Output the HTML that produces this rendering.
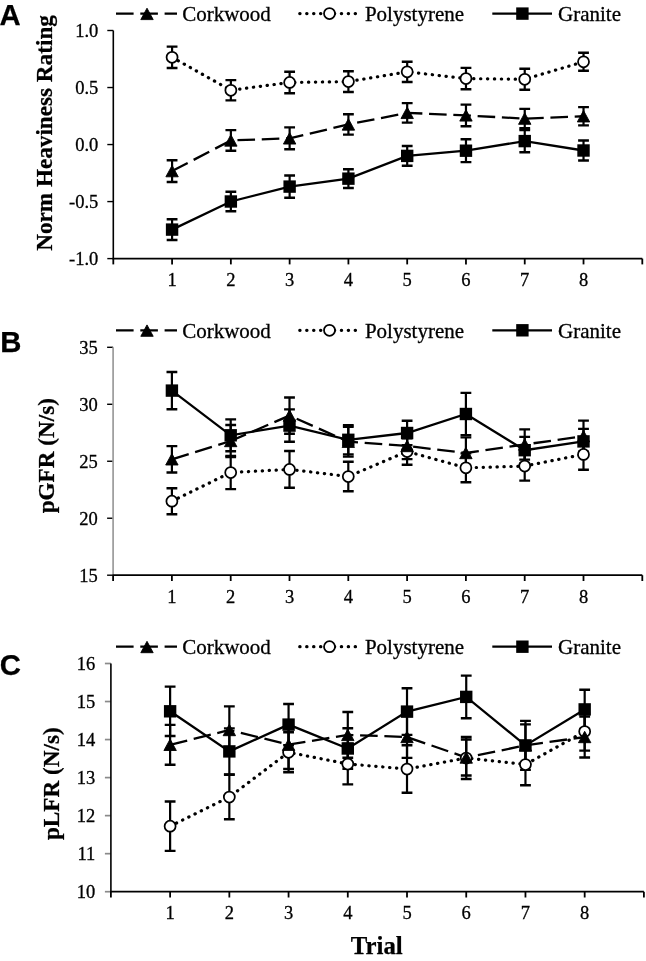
<!DOCTYPE html>
<html><head><meta charset="utf-8"><title>Figure</title>
<style>html,body{margin:0;padding:0;background:#fff;} svg{display:block;will-change:transform;} text{stroke:#000;stroke-width:.3px;} text[font-weight=bold]{stroke-width:.25px;}</style></head>
<body><svg width="646" height="961" viewBox="0 0 646 961">
<rect width="646" height="961" fill="#fff"/>
<path d="M107.3 30.50H113.3" stroke="#000" stroke-width="1.4"/><text x="98.3" y="36.80" text-anchor="end" font-family="'Liberation Serif', serif" font-size="18.5">1.0</text><path d="M107.3 87.53H113.3" stroke="#000" stroke-width="1.4"/><text x="98.3" y="93.83" text-anchor="end" font-family="'Liberation Serif', serif" font-size="18.5">0.5</text><path d="M107.3 144.55H113.3" stroke="#000" stroke-width="1.4"/><text x="98.3" y="150.85" text-anchor="end" font-family="'Liberation Serif', serif" font-size="18.5">0.0</text><path d="M107.3 201.58H113.3" stroke="#000" stroke-width="1.4"/><text x="98.3" y="207.88" text-anchor="end" font-family="'Liberation Serif', serif" font-size="18.5">-0.5</text><path d="M107.3 258.60H113.3" stroke="#000" stroke-width="1.4"/><text x="98.3" y="264.90" text-anchor="end" font-family="'Liberation Serif', serif" font-size="18.5">-1.0</text><path d="M113.30 258.6V264.40000000000003" stroke="#000" stroke-width="1.8"/><path d="M172.08 258.6V264.40000000000003" stroke="#000" stroke-width="1.8"/><path d="M230.86 258.6V264.40000000000003" stroke="#000" stroke-width="1.8"/><path d="M289.63 258.6V264.40000000000003" stroke="#000" stroke-width="1.8"/><path d="M348.41 258.6V264.40000000000003" stroke="#000" stroke-width="1.8"/><path d="M407.19 258.6V264.40000000000003" stroke="#000" stroke-width="1.8"/><path d="M465.97 258.6V264.40000000000003" stroke="#000" stroke-width="1.8"/><path d="M524.74 258.6V264.40000000000003" stroke="#000" stroke-width="1.8"/><path d="M583.52 258.6V264.40000000000003" stroke="#000" stroke-width="1.8"/><path d="M642.30 258.6V264.40000000000003" stroke="#000" stroke-width="1.8"/><path d="M113.3 30.5V258.6" stroke="#000" stroke-width="1.6"/><path d="M112.5 258.6H642.3" stroke="#000" stroke-width="1.7"/><text x="172.08" y="285.90" text-anchor="middle" font-family="'Liberation Serif', serif" font-size="18.5">1</text><text x="230.86" y="285.90" text-anchor="middle" font-family="'Liberation Serif', serif" font-size="18.5">2</text><text x="289.63" y="285.90" text-anchor="middle" font-family="'Liberation Serif', serif" font-size="18.5">3</text><text x="348.41" y="285.90" text-anchor="middle" font-family="'Liberation Serif', serif" font-size="18.5">4</text><text x="407.19" y="285.90" text-anchor="middle" font-family="'Liberation Serif', serif" font-size="18.5">5</text><text x="465.97" y="285.90" text-anchor="middle" font-family="'Liberation Serif', serif" font-size="18.5">6</text><text x="524.74" y="285.90" text-anchor="middle" font-family="'Liberation Serif', serif" font-size="18.5">7</text><text x="583.52" y="285.90" text-anchor="middle" font-family="'Liberation Serif', serif" font-size="18.5">8</text><path d="M172.08 57.30L230.86 90.25L289.63 82.45L348.41 81.60L407.19 71.85L465.97 78.60L524.74 79.25L583.52 61.80" fill="none" stroke="#000" stroke-width="3.2" stroke-dasharray="0.3 6.63" stroke-linecap="round"/><path d="M172.08 171.10L230.86 140.45L289.63 138.35L348.41 124.45L407.19 112.85L465.97 115.40L524.74 118.60L583.52 116.25" fill="none" stroke="#000" stroke-width="2.3" stroke-dasharray="17.6 6.7"/><path d="M172.08 229.60L230.86 201.50L289.63 186.60L348.41 178.65L407.19 155.90L465.97 150.70L524.74 141.10L583.52 150.50" fill="none" stroke="#000" stroke-width="2.3"/><path d="M172.08 46.60V68.00" stroke="#000" stroke-width="2.2"/><path d="M166.68 46.60H177.48M166.68 68.00H177.48" stroke="#000" stroke-width="2.4"/><path d="M230.86 80.10V100.40" stroke="#000" stroke-width="2.2"/><path d="M225.46 80.10H236.26M225.46 100.40H236.26" stroke="#000" stroke-width="2.4"/><path d="M289.63 71.70V93.20" stroke="#000" stroke-width="2.2"/><path d="M284.23 71.70H295.03M284.23 93.20H295.03" stroke="#000" stroke-width="2.4"/><path d="M348.41 71.20V92.00" stroke="#000" stroke-width="2.2"/><path d="M343.01 71.20H353.81M343.01 92.00H353.81" stroke="#000" stroke-width="2.4"/><path d="M407.19 61.70V82.00" stroke="#000" stroke-width="2.2"/><path d="M401.79 61.70H412.59M401.79 82.00H412.59" stroke="#000" stroke-width="2.4"/><path d="M465.97 67.90V89.30" stroke="#000" stroke-width="2.2"/><path d="M460.57 67.90H471.37M460.57 89.30H471.37" stroke="#000" stroke-width="2.4"/><path d="M524.74 68.70V89.80" stroke="#000" stroke-width="2.2"/><path d="M519.34 68.70H530.14M519.34 89.80H530.14" stroke="#000" stroke-width="2.4"/><path d="M583.52 52.80V70.80" stroke="#000" stroke-width="2.2"/><path d="M578.12 52.80H588.92M578.12 70.80H588.92" stroke="#000" stroke-width="2.4"/><path d="M172.08 160.20V182.00" stroke="#000" stroke-width="2.2"/><path d="M166.68 160.20H177.48M166.68 182.00H177.48" stroke="#000" stroke-width="2.4"/><path d="M230.86 130.10V150.80" stroke="#000" stroke-width="2.2"/><path d="M225.46 130.10H236.26M225.46 150.80H236.26" stroke="#000" stroke-width="2.4"/><path d="M289.63 127.40V149.30" stroke="#000" stroke-width="2.2"/><path d="M284.23 127.40H295.03M284.23 149.30H295.03" stroke="#000" stroke-width="2.4"/><path d="M348.41 114.30V134.60" stroke="#000" stroke-width="2.2"/><path d="M343.01 114.30H353.81M343.01 134.60H353.81" stroke="#000" stroke-width="2.4"/><path d="M407.19 103.10V122.60" stroke="#000" stroke-width="2.2"/><path d="M401.79 103.10H412.59M401.79 122.60H412.59" stroke="#000" stroke-width="2.4"/><path d="M465.97 104.60V126.20" stroke="#000" stroke-width="2.2"/><path d="M460.57 104.60H471.37M460.57 126.20H471.37" stroke="#000" stroke-width="2.4"/><path d="M524.74 108.90V128.30" stroke="#000" stroke-width="2.2"/><path d="M519.34 108.90H530.14M519.34 128.30H530.14" stroke="#000" stroke-width="2.4"/><path d="M583.52 107.10V125.40" stroke="#000" stroke-width="2.2"/><path d="M578.12 107.10H588.92M578.12 125.40H588.92" stroke="#000" stroke-width="2.4"/><path d="M172.08 219.20V240.00" stroke="#000" stroke-width="2.2"/><path d="M166.68 219.20H177.48M166.68 240.00H177.48" stroke="#000" stroke-width="2.4"/><path d="M230.86 191.70V211.30" stroke="#000" stroke-width="2.2"/><path d="M225.46 191.70H236.26M225.46 211.30H236.26" stroke="#000" stroke-width="2.4"/><path d="M289.63 175.50V197.70" stroke="#000" stroke-width="2.2"/><path d="M284.23 175.50H295.03M284.23 197.70H295.03" stroke="#000" stroke-width="2.4"/><path d="M348.41 169.30V188.00" stroke="#000" stroke-width="2.2"/><path d="M343.01 169.30H353.81M343.01 188.00H353.81" stroke="#000" stroke-width="2.4"/><path d="M407.19 146.00V165.80" stroke="#000" stroke-width="2.2"/><path d="M401.79 146.00H412.59M401.79 165.80H412.59" stroke="#000" stroke-width="2.4"/><path d="M465.97 139.30V162.10" stroke="#000" stroke-width="2.2"/><path d="M460.57 139.30H471.37M460.57 162.10H471.37" stroke="#000" stroke-width="2.4"/><path d="M524.74 130.00V152.20" stroke="#000" stroke-width="2.2"/><path d="M519.34 130.00H530.14M519.34 152.20H530.14" stroke="#000" stroke-width="2.4"/><path d="M583.52 140.50V160.50" stroke="#000" stroke-width="2.2"/><path d="M578.12 140.50H588.92M578.12 160.50H588.92" stroke="#000" stroke-width="2.4"/><rect x="165.88" y="223.40" width="12.4" height="12.4" fill="#000"/><rect x="224.66" y="195.30" width="12.4" height="12.4" fill="#000"/><rect x="283.43" y="180.40" width="12.4" height="12.4" fill="#000"/><rect x="342.21" y="172.45" width="12.4" height="12.4" fill="#000"/><rect x="400.99" y="149.70" width="12.4" height="12.4" fill="#000"/><rect x="459.77" y="144.50" width="12.4" height="12.4" fill="#000"/><rect x="518.54" y="134.90" width="12.4" height="12.4" fill="#000"/><rect x="577.32" y="144.30" width="12.4" height="12.4" fill="#000"/><circle cx="172.08" cy="57.30" r="5.5" fill="#fff" stroke="#000" stroke-width="1.75"/><circle cx="230.86" cy="90.25" r="5.5" fill="#fff" stroke="#000" stroke-width="1.75"/><circle cx="289.63" cy="82.45" r="5.5" fill="#fff" stroke="#000" stroke-width="1.75"/><circle cx="348.41" cy="81.60" r="5.5" fill="#fff" stroke="#000" stroke-width="1.75"/><circle cx="407.19" cy="71.85" r="5.5" fill="#fff" stroke="#000" stroke-width="1.75"/><circle cx="465.97" cy="78.60" r="5.5" fill="#fff" stroke="#000" stroke-width="1.75"/><circle cx="524.74" cy="79.25" r="5.5" fill="#fff" stroke="#000" stroke-width="1.75"/><circle cx="583.52" cy="61.80" r="5.5" fill="#fff" stroke="#000" stroke-width="1.75"/><path d="M172.08 165.40L178.28 176.80L165.88 176.80Z" fill="#000" stroke="#000" stroke-width="0.9" stroke-linejoin="round"/><path d="M230.86 134.75L237.06 146.15L224.66 146.15Z" fill="#000" stroke="#000" stroke-width="0.9" stroke-linejoin="round"/><path d="M289.63 132.65L295.83 144.05L283.43 144.05Z" fill="#000" stroke="#000" stroke-width="0.9" stroke-linejoin="round"/><path d="M348.41 118.75L354.61 130.15L342.21 130.15Z" fill="#000" stroke="#000" stroke-width="0.9" stroke-linejoin="round"/><path d="M407.19 107.15L413.39 118.55L400.99 118.55Z" fill="#000" stroke="#000" stroke-width="0.9" stroke-linejoin="round"/><path d="M465.97 109.70L472.17 121.10L459.77 121.10Z" fill="#000" stroke="#000" stroke-width="0.9" stroke-linejoin="round"/><path d="M524.74 112.90L530.94 124.30L518.54 124.30Z" fill="#000" stroke="#000" stroke-width="0.9" stroke-linejoin="round"/><path d="M583.52 110.55L589.72 121.95L577.32 121.95Z" fill="#000" stroke="#000" stroke-width="0.9" stroke-linejoin="round"/><path d="M116 13.6H177" stroke="#000" stroke-width="2.2" stroke-dasharray="17.6 6.7"/><path d="M147.00 8.20L153.20 19.60L140.80 19.60Z" fill="#000" stroke="#000" stroke-width="0.9" stroke-linejoin="round"/><text x="182.2" y="20.9" font-family="'Liberation Serif', serif" font-size="21">Corkwood</text><path d="M299.75 13.6H358" stroke="#000" stroke-width="3.2" stroke-dasharray="0.3 6.63" stroke-linecap="round"/><circle cx="329.50" cy="13.60" r="5.5" fill="#fff" stroke="#000" stroke-width="1.75"/><text x="364.9" y="20.9" font-family="'Liberation Serif', serif" font-size="21">Polystyrene</text><path d="M492.3 13.6H552" stroke="#000" stroke-width="2.2"/><rect x="516.20" y="7.40" width="12.4" height="12.4" fill="#000"/><text x="558" y="20.9" font-family="'Liberation Serif', serif" font-size="21">Granite</text><path d="M107.1 347.30H113.1" stroke="#000" stroke-width="1.4"/><text x="97.8" y="353.60" text-anchor="end" font-family="'Liberation Serif', serif" font-size="18.5">35</text><path d="M107.1 404.28H113.1" stroke="#000" stroke-width="1.4"/><text x="97.8" y="410.58" text-anchor="end" font-family="'Liberation Serif', serif" font-size="18.5">30</text><path d="M107.1 461.25H113.1" stroke="#000" stroke-width="1.4"/><text x="97.8" y="467.55" text-anchor="end" font-family="'Liberation Serif', serif" font-size="18.5">25</text><path d="M107.1 518.23H113.1" stroke="#000" stroke-width="1.4"/><text x="97.8" y="524.52" text-anchor="end" font-family="'Liberation Serif', serif" font-size="18.5">20</text><path d="M107.1 575.20H113.1" stroke="#000" stroke-width="1.4"/><text x="97.8" y="581.50" text-anchor="end" font-family="'Liberation Serif', serif" font-size="18.5">15</text><path d="M113.10 575.2V581.0" stroke="#000" stroke-width="1.8"/><path d="M171.90 575.2V581.0" stroke="#000" stroke-width="1.8"/><path d="M230.70 575.2V581.0" stroke="#000" stroke-width="1.8"/><path d="M289.50 575.2V581.0" stroke="#000" stroke-width="1.8"/><path d="M348.30 575.2V581.0" stroke="#000" stroke-width="1.8"/><path d="M407.10 575.2V581.0" stroke="#000" stroke-width="1.8"/><path d="M465.90 575.2V581.0" stroke="#000" stroke-width="1.8"/><path d="M524.70 575.2V581.0" stroke="#000" stroke-width="1.8"/><path d="M583.50 575.2V581.0" stroke="#000" stroke-width="1.8"/><path d="M642.30 575.2V581.0" stroke="#000" stroke-width="1.8"/><path d="M113.1 347.3V575.2" stroke="#a0a0a0" stroke-width="1.8"/><path d="M112.3 575.2H642.3" stroke="#000" stroke-width="1.7"/><text x="171.90" y="602.50" text-anchor="middle" font-family="'Liberation Serif', serif" font-size="18.5">1</text><text x="230.70" y="602.50" text-anchor="middle" font-family="'Liberation Serif', serif" font-size="18.5">2</text><text x="289.50" y="602.50" text-anchor="middle" font-family="'Liberation Serif', serif" font-size="18.5">3</text><text x="348.30" y="602.50" text-anchor="middle" font-family="'Liberation Serif', serif" font-size="18.5">4</text><text x="407.10" y="602.50" text-anchor="middle" font-family="'Liberation Serif', serif" font-size="18.5">5</text><text x="465.90" y="602.50" text-anchor="middle" font-family="'Liberation Serif', serif" font-size="18.5">6</text><text x="524.70" y="602.50" text-anchor="middle" font-family="'Liberation Serif', serif" font-size="18.5">7</text><text x="583.50" y="602.50" text-anchor="middle" font-family="'Liberation Serif', serif" font-size="18.5">8</text><path d="M171.90 501.20L230.70 472.50L289.50 469.40L348.30 476.50L407.10 451.50L465.90 467.80L524.70 466.10L583.50 454.40" fill="none" stroke="#000" stroke-width="3.2" stroke-dasharray="0.3 6.63" stroke-linecap="round"/><path d="M171.90 459.30L230.70 441.00" fill="none" stroke="#000" stroke-width="2.3" stroke-dasharray="17.6 6.7"/><path d="M230.70 441.00L289.50 415.60L348.30 441.70L407.10 446.00L465.90 453.00L524.70 444.50L583.50 436.20" fill="none" stroke="#000" stroke-width="2.3" stroke-dasharray="17.6 6.7" stroke-dashoffset="1.0"/><path d="M171.90 390.60L230.70 435.30L289.50 425.60L348.30 439.80L407.10 433.00L465.90 414.00L524.70 450.20L583.50 441.40" fill="none" stroke="#000" stroke-width="2.3"/><path d="M171.90 488.20V514.20" stroke="#000" stroke-width="2.2"/><path d="M166.50 488.20H177.30M166.50 514.20H177.30" stroke="#000" stroke-width="2.4"/><path d="M230.70 455.90V489.10" stroke="#000" stroke-width="2.2"/><path d="M225.30 455.90H236.10M225.30 489.10H236.10" stroke="#000" stroke-width="2.4"/><path d="M289.50 451.00V487.80" stroke="#000" stroke-width="2.2"/><path d="M284.10 451.00H294.90M284.10 487.80H294.90" stroke="#000" stroke-width="2.4"/><path d="M348.30 461.70V491.30" stroke="#000" stroke-width="2.2"/><path d="M342.90 461.70H353.70M342.90 491.30H353.70" stroke="#000" stroke-width="2.4"/><path d="M407.10 438.20V464.80" stroke="#000" stroke-width="2.2"/><path d="M401.70 438.20H412.50M401.70 464.80H412.50" stroke="#000" stroke-width="2.4"/><path d="M465.90 453.40V482.20" stroke="#000" stroke-width="2.2"/><path d="M460.50 453.40H471.30M460.50 482.20H471.30" stroke="#000" stroke-width="2.4"/><path d="M524.70 451.60V480.60" stroke="#000" stroke-width="2.2"/><path d="M519.30 451.60H530.10M519.30 480.60H530.10" stroke="#000" stroke-width="2.4"/><path d="M583.50 439.10V469.70" stroke="#000" stroke-width="2.2"/><path d="M578.10 439.10H588.90M578.10 469.70H588.90" stroke="#000" stroke-width="2.4"/><path d="M171.90 446.10V472.50" stroke="#000" stroke-width="2.2"/><path d="M166.50 446.10H177.30M166.50 472.50H177.30" stroke="#000" stroke-width="2.4"/><path d="M230.70 425.00V457.00" stroke="#000" stroke-width="2.2"/><path d="M225.30 425.00H236.10M225.30 457.00H236.10" stroke="#000" stroke-width="2.4"/><path d="M289.50 397.50V433.70" stroke="#000" stroke-width="2.2"/><path d="M284.10 397.50H294.90M284.10 433.70H294.90" stroke="#000" stroke-width="2.4"/><path d="M348.30 426.80V456.60" stroke="#000" stroke-width="2.2"/><path d="M342.90 426.80H353.70M342.90 456.60H353.70" stroke="#000" stroke-width="2.4"/><path d="M407.10 432.90V459.10" stroke="#000" stroke-width="2.2"/><path d="M401.70 432.90H412.50M401.70 459.10H412.50" stroke="#000" stroke-width="2.4"/><path d="M465.90 437.40V468.60" stroke="#000" stroke-width="2.2"/><path d="M460.50 437.40H471.30M460.50 468.60H471.30" stroke="#000" stroke-width="2.4"/><path d="M524.70 429.40V459.60" stroke="#000" stroke-width="2.2"/><path d="M519.30 429.40H530.10M519.30 459.60H530.10" stroke="#000" stroke-width="2.4"/><path d="M583.50 420.60V451.80" stroke="#000" stroke-width="2.2"/><path d="M578.10 420.60H588.90M578.10 451.80H588.90" stroke="#000" stroke-width="2.4"/><path d="M171.90 372.00V409.20" stroke="#000" stroke-width="2.2"/><path d="M166.50 372.00H177.30M166.50 409.20H177.30" stroke="#000" stroke-width="2.4"/><path d="M230.70 419.40V451.20" stroke="#000" stroke-width="2.2"/><path d="M225.30 419.40H236.10M225.30 451.20H236.10" stroke="#000" stroke-width="2.4"/><path d="M289.50 409.40V441.80" stroke="#000" stroke-width="2.2"/><path d="M284.10 409.40H294.90M284.10 441.80H294.90" stroke="#000" stroke-width="2.4"/><path d="M348.30 425.20V454.40" stroke="#000" stroke-width="2.2"/><path d="M342.90 425.20H353.70M342.90 454.40H353.70" stroke="#000" stroke-width="2.4"/><path d="M407.10 420.70V445.30" stroke="#000" stroke-width="2.2"/><path d="M401.70 420.70H412.50M401.70 445.30H412.50" stroke="#000" stroke-width="2.4"/><path d="M465.90 392.90V435.10" stroke="#000" stroke-width="2.2"/><path d="M460.50 392.90H471.30M460.50 435.10H471.30" stroke="#000" stroke-width="2.4"/><path d="M524.70 436.90V463.50" stroke="#000" stroke-width="2.2"/><path d="M519.30 436.90H530.10M519.30 463.50H530.10" stroke="#000" stroke-width="2.4"/><path d="M583.50 428.90V453.90" stroke="#000" stroke-width="2.2"/><path d="M578.10 428.90H588.90M578.10 453.90H588.90" stroke="#000" stroke-width="2.4"/><rect x="165.70" y="384.40" width="12.4" height="12.4" fill="#000"/><rect x="224.50" y="429.10" width="12.4" height="12.4" fill="#000"/><rect x="283.30" y="419.40" width="12.4" height="12.4" fill="#000"/><rect x="342.10" y="433.60" width="12.4" height="12.4" fill="#000"/><rect x="400.90" y="426.80" width="12.4" height="12.4" fill="#000"/><rect x="459.70" y="407.80" width="12.4" height="12.4" fill="#000"/><rect x="518.50" y="444.00" width="12.4" height="12.4" fill="#000"/><rect x="577.30" y="435.20" width="12.4" height="12.4" fill="#000"/><circle cx="171.90" cy="501.20" r="5.5" fill="#fff" stroke="#000" stroke-width="1.75"/><circle cx="230.70" cy="472.50" r="5.5" fill="#fff" stroke="#000" stroke-width="1.75"/><circle cx="289.50" cy="469.40" r="5.5" fill="#fff" stroke="#000" stroke-width="1.75"/><circle cx="348.30" cy="476.50" r="5.5" fill="#fff" stroke="#000" stroke-width="1.75"/><circle cx="407.10" cy="451.50" r="5.5" fill="#fff" stroke="#000" stroke-width="1.75"/><circle cx="465.90" cy="467.80" r="5.5" fill="#fff" stroke="#000" stroke-width="1.75"/><circle cx="524.70" cy="466.10" r="5.5" fill="#fff" stroke="#000" stroke-width="1.75"/><circle cx="583.50" cy="454.40" r="5.5" fill="#fff" stroke="#000" stroke-width="1.75"/><path d="M171.90 453.60L178.10 465.00L165.70 465.00Z" fill="#000" stroke="#000" stroke-width="0.9" stroke-linejoin="round"/><path d="M230.70 435.30L236.90 446.70L224.50 446.70Z" fill="#000" stroke="#000" stroke-width="0.9" stroke-linejoin="round"/><path d="M289.50 409.90L295.70 421.30L283.30 421.30Z" fill="#000" stroke="#000" stroke-width="0.9" stroke-linejoin="round"/><path d="M348.30 436.00L354.50 447.40L342.10 447.40Z" fill="#000" stroke="#000" stroke-width="0.9" stroke-linejoin="round"/><path d="M407.10 440.30L413.30 451.70L400.90 451.70Z" fill="#000" stroke="#000" stroke-width="0.9" stroke-linejoin="round"/><path d="M465.90 447.30L472.10 458.70L459.70 458.70Z" fill="#000" stroke="#000" stroke-width="0.9" stroke-linejoin="round"/><path d="M524.70 438.80L530.90 450.20L518.50 450.20Z" fill="#000" stroke="#000" stroke-width="0.9" stroke-linejoin="round"/><path d="M583.50 430.50L589.70 441.90L577.30 441.90Z" fill="#000" stroke="#000" stroke-width="0.9" stroke-linejoin="round"/><path d="M116 330.3H177" stroke="#000" stroke-width="2.2" stroke-dasharray="17.6 6.7"/><path d="M147.00 324.90L153.20 336.30L140.80 336.30Z" fill="#000" stroke="#000" stroke-width="0.9" stroke-linejoin="round"/><text x="182.2" y="337.6" font-family="'Liberation Serif', serif" font-size="21">Corkwood</text><path d="M299.75 330.3H358" stroke="#000" stroke-width="3.2" stroke-dasharray="0.3 6.63" stroke-linecap="round"/><circle cx="329.50" cy="330.30" r="5.5" fill="#fff" stroke="#000" stroke-width="1.75"/><text x="364.9" y="337.6" font-family="'Liberation Serif', serif" font-size="21">Polystyrene</text><path d="M492.3 330.3H552" stroke="#000" stroke-width="2.2"/><rect x="516.20" y="324.10" width="12.4" height="12.4" fill="#000"/><text x="558" y="337.6" font-family="'Liberation Serif', serif" font-size="21">Granite</text><path d="M104.9 663.50H110.9" stroke="#8a8a8a" stroke-width="1.7"/><text x="95.3" y="669.80" text-anchor="end" font-family="'Liberation Serif', serif" font-size="18.5">16</text><path d="M104.9 701.53H110.9" stroke="#8a8a8a" stroke-width="1.7"/><text x="95.3" y="707.83" text-anchor="end" font-family="'Liberation Serif', serif" font-size="18.5">15</text><path d="M104.9 739.57H110.9" stroke="#8a8a8a" stroke-width="1.7"/><text x="95.3" y="745.87" text-anchor="end" font-family="'Liberation Serif', serif" font-size="18.5">14</text><path d="M104.9 777.60H110.9" stroke="#8a8a8a" stroke-width="1.7"/><text x="95.3" y="783.90" text-anchor="end" font-family="'Liberation Serif', serif" font-size="18.5">13</text><path d="M104.9 815.63H110.9" stroke="#8a8a8a" stroke-width="1.7"/><text x="95.3" y="821.93" text-anchor="end" font-family="'Liberation Serif', serif" font-size="18.5">12</text><path d="M104.9 853.67H110.9" stroke="#8a8a8a" stroke-width="1.7"/><text x="95.3" y="859.97" text-anchor="end" font-family="'Liberation Serif', serif" font-size="18.5">11</text><path d="M104.9 891.70H110.9" stroke="#8a8a8a" stroke-width="1.7"/><text x="95.3" y="898.00" text-anchor="end" font-family="'Liberation Serif', serif" font-size="18.5">10</text><path d="M110.90 891.7V897.5" stroke="#000" stroke-width="1.8"/><path d="M170.12 891.7V897.5" stroke="#000" stroke-width="1.8"/><path d="M229.34 891.7V897.5" stroke="#000" stroke-width="1.8"/><path d="M288.57 891.7V897.5" stroke="#000" stroke-width="1.8"/><path d="M347.79 891.7V897.5" stroke="#000" stroke-width="1.8"/><path d="M407.01 891.7V897.5" stroke="#000" stroke-width="1.8"/><path d="M466.23 891.7V897.5" stroke="#000" stroke-width="1.8"/><path d="M525.46 891.7V897.5" stroke="#000" stroke-width="1.8"/><path d="M584.68 891.7V897.5" stroke="#000" stroke-width="1.8"/><path d="M643.90 891.7V897.5" stroke="#000" stroke-width="1.8"/><path d="M110.9 663.5V891.7" stroke="#000" stroke-width="1.6"/><path d="M110.10000000000001 891.7H643.9" stroke="#000" stroke-width="1.7"/><text x="170.12" y="919.00" text-anchor="middle" font-family="'Liberation Serif', serif" font-size="18.5">1</text><text x="229.34" y="919.00" text-anchor="middle" font-family="'Liberation Serif', serif" font-size="18.5">2</text><text x="288.57" y="919.00" text-anchor="middle" font-family="'Liberation Serif', serif" font-size="18.5">3</text><text x="347.79" y="919.00" text-anchor="middle" font-family="'Liberation Serif', serif" font-size="18.5">4</text><text x="407.01" y="919.00" text-anchor="middle" font-family="'Liberation Serif', serif" font-size="18.5">5</text><text x="466.23" y="919.00" text-anchor="middle" font-family="'Liberation Serif', serif" font-size="18.5">6</text><text x="525.46" y="919.00" text-anchor="middle" font-family="'Liberation Serif', serif" font-size="18.5">7</text><text x="584.68" y="919.00" text-anchor="middle" font-family="'Liberation Serif', serif" font-size="18.5">8</text><path d="M170.12 826.20L229.34 797.00L288.57 752.30L347.79 764.00L407.01 769.00L466.23 758.00L525.46 764.50L584.68 731.50" fill="none" stroke="#000" stroke-width="3.2" stroke-dasharray="0.3 6.63" stroke-linecap="round"/><path d="M170.12 744.80L229.34 730.00L288.57 744.70L347.79 734.90L407.01 737.00L466.23 757.50L525.46 745.40L584.68 737.00" fill="none" stroke="#000" stroke-width="2.3" stroke-dasharray="17.6 6.7"/><path d="M170.12 711.30L229.34 751.40L288.57 724.60L347.79 748.50L407.01 711.60L466.23 696.90L525.46 745.40L584.68 709.40" fill="none" stroke="#000" stroke-width="2.3"/><path d="M170.12 801.50V850.90" stroke="#000" stroke-width="2.2"/><path d="M164.72 801.50H175.52M164.72 850.90H175.52" stroke="#000" stroke-width="2.4"/><path d="M229.34 774.80V819.20" stroke="#000" stroke-width="2.2"/><path d="M223.94 774.80H234.74M223.94 819.20H234.74" stroke="#000" stroke-width="2.4"/><path d="M288.57 732.30V772.30" stroke="#000" stroke-width="2.2"/><path d="M283.17 732.30H293.97M283.17 772.30H293.97" stroke="#000" stroke-width="2.4"/><path d="M347.79 743.60V784.40" stroke="#000" stroke-width="2.2"/><path d="M342.39 743.60H353.19M342.39 784.40H353.19" stroke="#000" stroke-width="2.4"/><path d="M407.01 745.20V792.80" stroke="#000" stroke-width="2.2"/><path d="M401.61 745.20H412.41M401.61 792.80H412.41" stroke="#000" stroke-width="2.4"/><path d="M466.23 737.00V779.00" stroke="#000" stroke-width="2.2"/><path d="M460.83 737.00H471.63M460.83 779.00H471.63" stroke="#000" stroke-width="2.4"/><path d="M525.46 743.80V785.20" stroke="#000" stroke-width="2.2"/><path d="M520.06 743.80H530.86M520.06 785.20H530.86" stroke="#000" stroke-width="2.4"/><path d="M584.68 712.40V750.60" stroke="#000" stroke-width="2.2"/><path d="M579.28 712.40H590.08M579.28 750.60H590.08" stroke="#000" stroke-width="2.4"/><path d="M170.12 724.90V764.70" stroke="#000" stroke-width="2.2"/><path d="M164.72 724.90H175.52M164.72 764.70H175.52" stroke="#000" stroke-width="2.4"/><path d="M229.34 706.40V753.60" stroke="#000" stroke-width="2.2"/><path d="M223.94 706.40H234.74M223.94 753.60H234.74" stroke="#000" stroke-width="2.4"/><path d="M288.57 720.40V769.00" stroke="#000" stroke-width="2.2"/><path d="M283.17 720.40H293.97M283.17 769.00H293.97" stroke="#000" stroke-width="2.4"/><path d="M347.79 712.00V757.80" stroke="#000" stroke-width="2.2"/><path d="M342.39 712.00H353.19M342.39 757.80H353.19" stroke="#000" stroke-width="2.4"/><path d="M407.01 716.10V757.90" stroke="#000" stroke-width="2.2"/><path d="M401.61 716.10H412.41M401.61 757.90H412.41" stroke="#000" stroke-width="2.4"/><path d="M466.23 739.50V775.50" stroke="#000" stroke-width="2.2"/><path d="M460.83 739.50H471.63M460.83 775.50H471.63" stroke="#000" stroke-width="2.4"/><path d="M525.46 720.90V769.90" stroke="#000" stroke-width="2.2"/><path d="M520.06 720.90H530.86M520.06 769.90H530.86" stroke="#000" stroke-width="2.4"/><path d="M584.68 716.50V757.50" stroke="#000" stroke-width="2.2"/><path d="M579.28 716.50H590.08M579.28 757.50H590.08" stroke="#000" stroke-width="2.4"/><path d="M170.12 686.60V736.00" stroke="#000" stroke-width="2.2"/><path d="M164.72 686.60H175.52M164.72 736.00H175.52" stroke="#000" stroke-width="2.4"/><path d="M229.34 728.40V774.40" stroke="#000" stroke-width="2.2"/><path d="M223.94 728.40H234.74M223.94 774.40H234.74" stroke="#000" stroke-width="2.4"/><path d="M288.57 704.00V745.20" stroke="#000" stroke-width="2.2"/><path d="M283.17 704.00H293.97M283.17 745.20H293.97" stroke="#000" stroke-width="2.4"/><path d="M347.79 728.30V768.70" stroke="#000" stroke-width="2.2"/><path d="M342.39 728.30H353.19M342.39 768.70H353.19" stroke="#000" stroke-width="2.4"/><path d="M407.01 688.30V734.90" stroke="#000" stroke-width="2.2"/><path d="M401.61 688.30H412.41M401.61 734.90H412.41" stroke="#000" stroke-width="2.4"/><path d="M466.23 675.60V718.20" stroke="#000" stroke-width="2.2"/><path d="M460.83 675.60H471.63M460.83 718.20H471.63" stroke="#000" stroke-width="2.4"/><path d="M525.46 724.40V766.40" stroke="#000" stroke-width="2.2"/><path d="M520.06 724.40H530.86M520.06 766.40H530.86" stroke="#000" stroke-width="2.4"/><path d="M584.68 689.80V729.00" stroke="#000" stroke-width="2.2"/><path d="M579.28 689.80H590.08M579.28 729.00H590.08" stroke="#000" stroke-width="2.4"/><rect x="163.92" y="705.10" width="12.4" height="12.4" fill="#000"/><rect x="223.14" y="745.20" width="12.4" height="12.4" fill="#000"/><rect x="282.37" y="718.40" width="12.4" height="12.4" fill="#000"/><rect x="341.59" y="742.30" width="12.4" height="12.4" fill="#000"/><rect x="400.81" y="705.40" width="12.4" height="12.4" fill="#000"/><rect x="460.03" y="690.70" width="12.4" height="12.4" fill="#000"/><rect x="519.26" y="739.20" width="12.4" height="12.4" fill="#000"/><rect x="578.48" y="703.20" width="12.4" height="12.4" fill="#000"/><circle cx="170.12" cy="826.20" r="5.5" fill="#fff" stroke="#000" stroke-width="1.75"/><circle cx="229.34" cy="797.00" r="5.5" fill="#fff" stroke="#000" stroke-width="1.75"/><circle cx="288.57" cy="752.30" r="5.5" fill="#fff" stroke="#000" stroke-width="1.75"/><circle cx="347.79" cy="764.00" r="5.5" fill="#fff" stroke="#000" stroke-width="1.75"/><circle cx="407.01" cy="769.00" r="5.5" fill="#fff" stroke="#000" stroke-width="1.75"/><circle cx="466.23" cy="758.00" r="5.5" fill="#fff" stroke="#000" stroke-width="1.75"/><circle cx="525.46" cy="764.50" r="5.5" fill="#fff" stroke="#000" stroke-width="1.75"/><circle cx="584.68" cy="731.50" r="5.5" fill="#fff" stroke="#000" stroke-width="1.75"/><path d="M170.12 739.10L176.32 750.50L163.92 750.50Z" fill="#000" stroke="#000" stroke-width="0.9" stroke-linejoin="round"/><path d="M229.34 724.30L235.54 735.70L223.14 735.70Z" fill="#000" stroke="#000" stroke-width="0.9" stroke-linejoin="round"/><path d="M288.57 739.00L294.77 750.40L282.37 750.40Z" fill="#000" stroke="#000" stroke-width="0.9" stroke-linejoin="round"/><path d="M347.79 729.20L353.99 740.60L341.59 740.60Z" fill="#000" stroke="#000" stroke-width="0.9" stroke-linejoin="round"/><path d="M407.01 731.30L413.21 742.70L400.81 742.70Z" fill="#000" stroke="#000" stroke-width="0.9" stroke-linejoin="round"/><path d="M466.23 751.80L472.43 763.20L460.03 763.20Z" fill="#000" stroke="#000" stroke-width="0.9" stroke-linejoin="round"/><path d="M525.46 739.70L531.66 751.10L519.26 751.10Z" fill="#000" stroke="#000" stroke-width="0.9" stroke-linejoin="round"/><path d="M584.68 731.30L590.88 742.70L578.48 742.70Z" fill="#000" stroke="#000" stroke-width="0.9" stroke-linejoin="round"/><path d="M116 646.7H177" stroke="#000" stroke-width="2.2" stroke-dasharray="17.6 6.7"/><path d="M147.00 641.30L153.20 652.70L140.80 652.70Z" fill="#000" stroke="#000" stroke-width="0.9" stroke-linejoin="round"/><text x="182.2" y="654.0" font-family="'Liberation Serif', serif" font-size="21">Corkwood</text><path d="M299.75 646.7H358" stroke="#000" stroke-width="3.2" stroke-dasharray="0.3 6.63" stroke-linecap="round"/><circle cx="329.50" cy="646.70" r="5.5" fill="#fff" stroke="#000" stroke-width="1.75"/><text x="364.9" y="654.0" font-family="'Liberation Serif', serif" font-size="21">Polystyrene</text><path d="M492.3 646.7H552" stroke="#000" stroke-width="2.2"/><rect x="516.20" y="640.50" width="12.4" height="12.4" fill="#000"/><text x="558" y="654.0" font-family="'Liberation Serif', serif" font-size="21">Granite</text><text transform="translate(52.0,133.0) rotate(-90)" text-anchor="middle" font-family="'Liberation Serif', serif" font-weight="bold" font-size="23.2">Norm Heaviness Rating</text><text transform="translate(54.0,455.7) rotate(-90)" text-anchor="middle" font-family="'Liberation Serif', serif" font-weight="bold" font-size="23.2">pGFR (N/s)</text><text transform="translate(59.0,783.7) rotate(-90)" text-anchor="middle" font-family="'Liberation Serif', serif" font-weight="bold" font-size="23.2">pLFR (N/s)</text><text x="376.8" y="953.7" text-anchor="middle" font-family="'Liberation Serif', serif" font-weight="bold" font-size="24.8">Trial</text><text x="-0.5" y="25.1" font-family="'Liberation Sans', sans-serif" font-weight="bold" font-size="29.3">A</text><text x="0.3" y="351.9" font-family="'Liberation Sans', sans-serif" font-weight="bold" font-size="29.3">B</text><text x="-0.3" y="675.3" font-family="'Liberation Sans', sans-serif" font-weight="bold" font-size="29.3">C</text>
</svg></body></html>
